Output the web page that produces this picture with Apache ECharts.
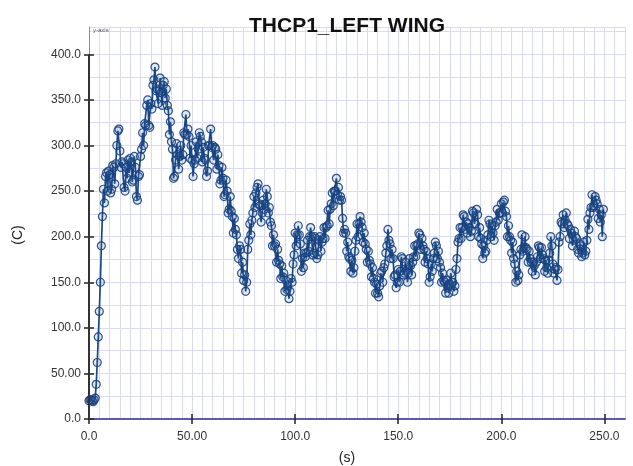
<!DOCTYPE html>
<html>
<head>
<meta charset="utf-8">
<script src="https://cdn.jsdelivr.net/npm/echarts@6/dist/echarts.min.js"></script>
<style>
  html, body { margin: 0; padding: 0; background: #ffffff; }
  #chart { width: 633px; height: 466px; }
</style>
</head>
<body>
<div id="chart"></div>
<script>
// Thermocouple THCP1 on the left wing: temperature log, two readings per second.
const chartTitle = 'THCP1_LEFT WING';
const xAxisTitle = '(s)';
const yAxisTitle = '(C)';
const yAxisTag = 'y-axis';

const sampleStart = 0;       // s, time of the first reading
const sampleInterval = 0.5;  // s between readings

// one row = 10 s of readings, in degrees C
const temperatures = [
  20, 21, 21, 20, 19, 21, 23, 38, 62, 90, 118, 150, 190, 222, 252, 237, 266, 270, 250, 272,
  268, 248, 252, 278, 276, 258, 280, 300, 316, 318, 294, 276, 282, 280, 254, 250, 276, 264, 284, 270,
  286, 282, 260, 262, 288, 276, 244, 240, 266, 268, 288, 296, 314, 300, 324, 322, 344, 350, 322, 320,
  346, 340, 366, 372, 386, 360, 362, 346, 360, 374, 358, 344, 366, 370, 352, 362, 344, 338, 312, 326,
  304, 296, 264, 266, 284, 302, 290, 274, 288, 300, 284, 290, 314, 312, 334, 312, 318, 310, 286, 300,
  284, 266, 280, 284, 304, 286, 296, 314, 310, 304, 282, 298, 286, 284, 266, 272, 300, 300, 318, 298,
  300, 284, 298, 296, 274, 290, 278, 258, 262, 276, 264, 244, 246, 262, 250, 226, 230, 244, 228, 222,
  204, 220, 208, 202, 186, 176, 190, 186, 160, 172, 152, 158, 140, 150, 186, 196, 214, 202, 218, 226,
  244, 232, 248, 254, 258, 236, 234, 216, 226, 240, 230, 236, 252, 244, 226, 232, 216, 212, 190, 202,
  190, 192, 172, 186, 174, 170, 154, 168, 156, 160, 140, 152, 142, 146, 132, 140, 154, 150, 170, 180,
  204, 190, 202, 212, 202, 192, 162, 176, 166, 182, 178, 182, 196, 184, 200, 210, 200, 180, 182, 200,
  198, 176, 180, 196, 200, 184, 194, 198, 210, 198, 210, 212, 229, 214, 230, 236, 248, 234, 250, 250,
  264, 246, 254, 240, 244, 240, 220, 204, 208, 204, 184, 194, 178, 176, 162, 174, 160, 166, 184, 196,
  214, 200, 214, 222, 216, 210, 194, 204, 192, 186, 172, 184, 174, 170, 156, 166, 154, 150, 138, 148,
  138, 134, 146, 160, 162, 150, 166, 170, 182, 190, 208, 196, 192, 176, 186, 176, 156, 158, 144, 150,
  164, 150, 162, 178, 176, 158, 160, 172, 162, 150, 160, 176, 168, 158, 172, 178, 190, 178, 190, 192,
  204, 202, 186, 198, 190, 186, 172, 184, 176, 170, 150, 156, 170, 162, 176, 182, 194, 190, 176, 184,
  172, 166, 150, 160, 152, 150, 138, 152, 144, 138, 148, 160, 150, 150, 140, 146, 164, 176, 194, 198,
  210, 198, 210, 224, 222, 208, 216, 204, 214, 210, 200, 206, 228, 226, 214, 214, 230, 224, 200, 210,
  198, 192, 176, 190, 182, 184, 196, 202, 218, 214, 200, 212, 204, 196, 212, 216, 230, 218, 226, 226,
  236, 226, 238, 240, 228, 222, 200, 212, 200, 196, 182, 194, 176, 170, 150, 162, 152, 158, 180, 186,
  202, 184, 188, 200, 188, 186, 172, 184, 176, 172, 162, 172, 168, 158, 172, 178, 190, 188, 176, 188,
  180, 176, 162, 174, 166, 160, 174, 182, 200, 190, 170, 160, 164, 166, 152, 164, 194, 200, 216, 214,
  224, 210, 218, 226, 214, 212, 198, 208, 204, 190, 196, 206, 200, 198, 186, 182, 192, 190, 178, 182,
  194, 180, 184, 196, 219, 208, 226, 232, 246, 232, 234, 244, 240, 236, 220, 230, 216, 224, 200, 230
];

const xTickValues = [0, 50, 100, 150, 200, 250];
const xTickLabels = ['0.0', '50.00', '100.0', '150.0', '200.0', '250.0'];
const yTickValues = [0, 50, 100, 150, 200, 250, 300, 350, 400];
const yTickLabels = ['0.0', '50.00', '100.0', '150.0', '200.0', '250.0', '300.0', '350.0', '400.0'];

const X_MAX = 260;
const Y_MAX = 430;

const points = temperatures.map((v, i) => [sampleStart + i * sampleInterval, v]);

const fontFamily = 'Liberation Sans, Arial, sans-serif';
const labelFont = { color: '#333333', fontSize: 12, fontFamily };
const gridLine = { show: true, lineStyle: { color: '#dadaf8', width: 1 } };
const tickStyle = { color: '#222222', width: 1.5 };

const chart = echarts.init(document.getElementById('chart'), null, { renderer: 'canvas' });

chart.setOption({
  animation: false,
  backgroundColor: '#ffffff',
  title: {
    text: chartTitle,
    left: 342,
    textAlign: 'center',
    top: 11,
    textStyle: { fontSize: 21, fontWeight: 'bold', color: '#111111', fontFamily }
  },
  grid: { left: 89, right: 8, top: 27, bottom: 47, containLabel: false, outerBoundsMode: 'none' },
  xAxis: [
    {
      type: 'value', min: 0, max: X_MAX, position: 'bottom',
      name: xAxisTitle, nameLocation: 'middle', nameGap: 32,
      nameTextStyle: { color: '#222222', fontSize: 14, fontFamily, padding: [0, 20, 0, 0] },
      axisLine: { show: true, lineStyle: { color: '#5a5ab8', width: 2 } },
      axisTick: { show: true, customValues: xTickValues, inside: false, length: 5, lineStyle: tickStyle },
      axisLabel: Object.assign({ customValues: xTickValues, margin: 12,
        formatter: v => xTickLabels[xTickValues.indexOf(v)] ?? '' }, labelFont),
      splitLine: { show: false }
    },
    {
      // fine 5 s grid
      type: 'value', min: 0, max: X_MAX, interval: 5, position: 'bottom',
      axisLine: { show: false }, axisTick: { show: false }, axisLabel: { show: false },
      splitLine: gridLine
    },
    {
      // inner half of the crossing tick marks
      type: 'value', min: 0, max: X_MAX, position: 'bottom',
      axisLine: { show: false },
      axisTick: { show: true, customValues: xTickValues, inside: true, length: 5, lineStyle: tickStyle },
      axisLabel: { show: false }, splitLine: { show: false }
    }
  ],
  yAxis: [
    {
      type: 'value', min: 0, max: Y_MAX, position: 'left',
      name: yAxisTitle, nameLocation: 'middle', nameGap: 64, nameRotate: 90,
      nameTextStyle: { color: '#222222', fontSize: 14, fontFamily, padding: [0, 24, 0, 0] },
      axisLine: { show: true, lineStyle: { color: '#8080ff', width: 1 } },
      axisTick: { show: true, customValues: yTickValues, inside: false, length: 5, lineStyle: tickStyle },
      axisLabel: Object.assign({ customValues: yTickValues, margin: 8,
        formatter: v => yTickLabels[yTickValues.indexOf(v)] ?? '' }, labelFont),
      splitLine: { show: false }
    },
    {
      // fine 25 C grid
      type: 'value', min: 0, max: Y_MAX, interval: 25, position: 'left',
      name: yAxisTag, nameLocation: 'end', nameGap: -6,
      nameTextStyle: { color: '#555577', fontSize: 6, align: 'left', padding: [0, 0, 0, 4], fontFamily },
      axisLine: { show: false }, axisTick: { show: false }, axisLabel: { show: false },
      splitLine: gridLine
    },
    {
      type: 'value', min: 0, max: Y_MAX, position: 'left',
      axisLine: { show: false },
      axisTick: { show: true, customValues: yTickValues, inside: true, length: 5, lineStyle: tickStyle },
      axisLabel: { show: false }, splitLine: { show: false }
    }
  ],
  series: [
    {
      type: 'line',
      xAxisIndex: 0,
      yAxisIndex: 0,
      data: points,
      symbol: 'circle',
      symbolSize: 8,
      showAllSymbol: true,
      lineStyle: { color: '#1a4785', width: 1.7 },
      itemStyle: { color: 'rgba(60,100,160,0.14)', borderColor: 'rgba(22,66,128,0.9)', borderWidth: 1.2 },
      emphasis: { disabled: true },
      markLine: {
        silent: true,
        symbol: 'none',
        label: { show: false },
        lineStyle: { color: '#333333', width: 2, type: 'solid' },
        data: [[{ coord: [0, 0] }, { coord: [0, 400] }]]
      },
      z: 3
    }
  ]
});
</script>
</body>
</html>
